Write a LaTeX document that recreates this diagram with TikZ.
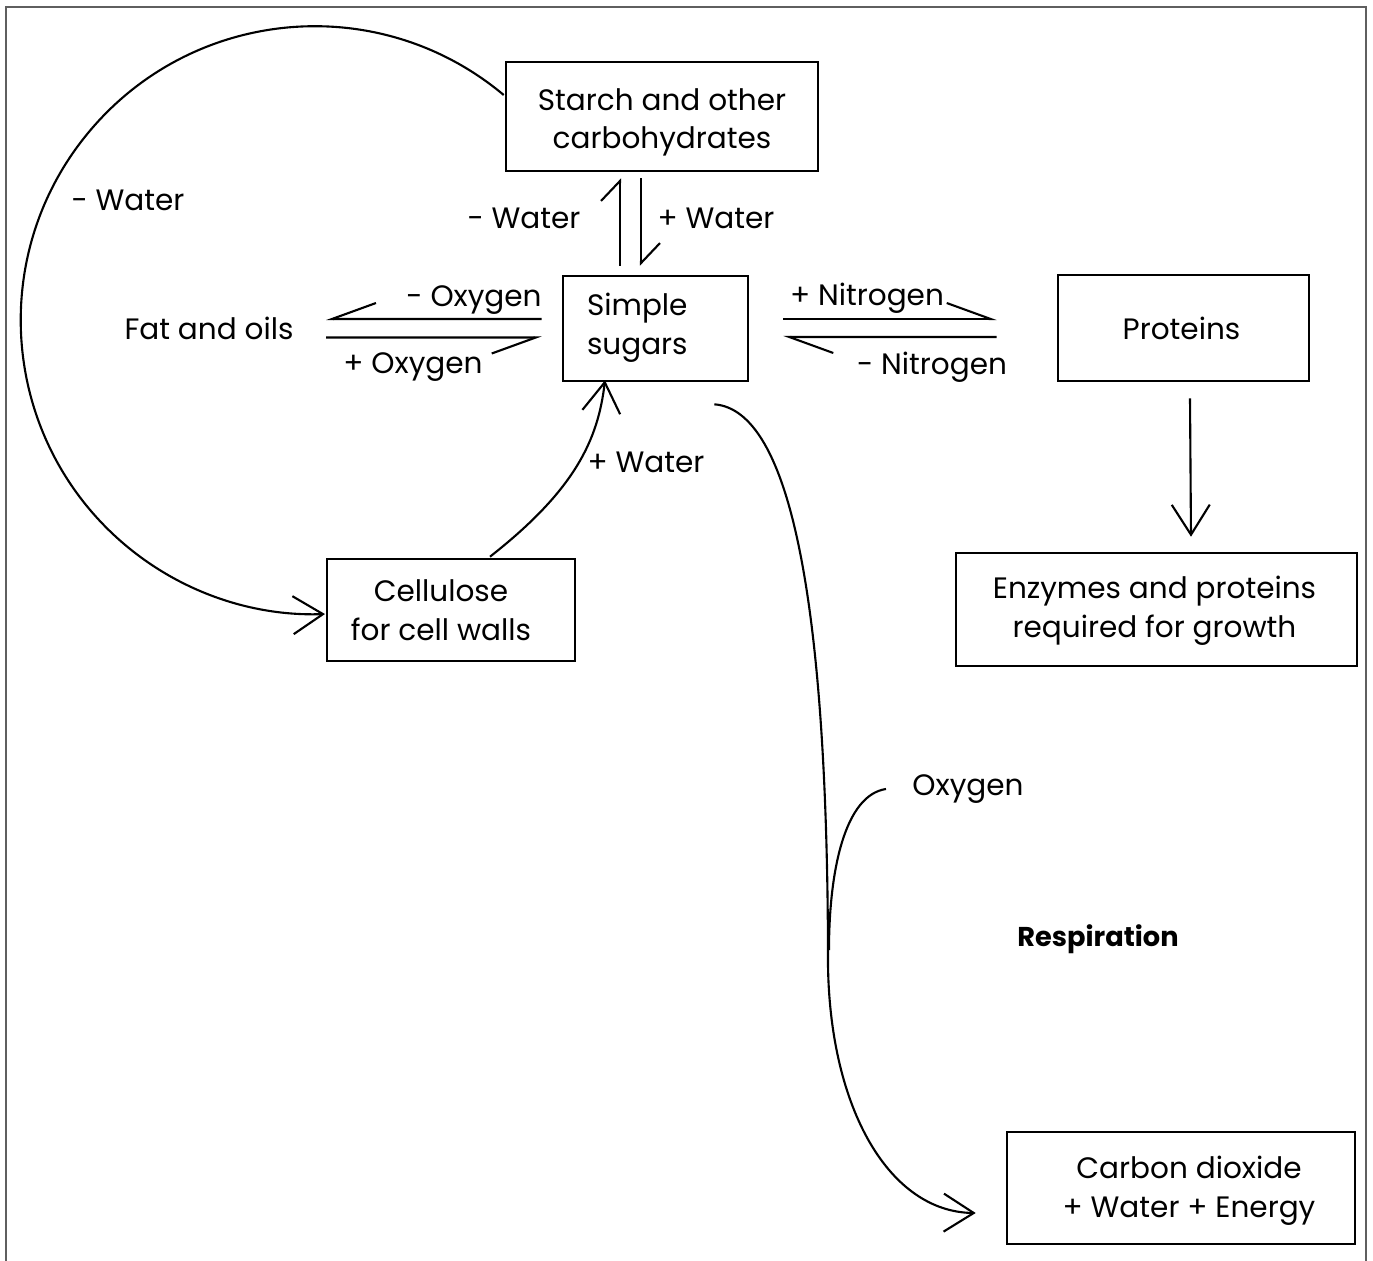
\documentclass[tikz,border=0pt]{standalone}
\usepackage{fontspec}
\setmainfont{Poppins}
\usetikzlibrary{arrows.meta}
\definecolor{framecol}{RGB}{95,95,95}
\tikzset{
  box/.style={draw, line width=1.5pt, inner sep=0pt},
  boxtext/.style={align=center, inner sep=0pt},
  lbl/.style={inner sep=0pt, text height=0.75em, text depth=0.22em, yshift=-0.1cm},
  conn/.style={line width=1.2pt},
  fullhead/.style={-{Straight Barb[length=0.6cm,width=0.76cm]}},
  shortharpL/.style={-{Straight Barb[left,length=0.4cm,width=0.76cm]}},
  longharpL/.style={-{Straight Barb[left,length=0.88cm,width=0.64cm]}},
  longharpR/.style={-{Straight Barb[right,length=0.88cm,width=0.64cm]}}
}
\begin{document}
\begin{tikzpicture}[x=0.02cm,y=0.02cm,font=\fontsize{16.8}{22}\selectfont]
\useasboundingbox (0,0) rectangle (1373,-1261);
\draw[framecol, line width=1.1pt] (6,-1261) -- (6,-7) -- (1366,-7) -- (1366,-1261);

% boxes
\node[box, minimum width=6.24cm, minimum height=2.18cm,
  label={[boxtext, yshift=-0.12cm]center:{Starch and other\\carbohydrates}}] (starch) at (662,-116.5) {};
\node[box, minimum width=3.70cm, minimum height=2.1cm,
  label={[boxtext, align=left, text width=2.74cm, yshift=0.02cm]center:{Simple\\sugars}}] (sugars) at (655.5,-328.5) {};
\node[box, minimum width=5.02cm, minimum height=2.12cm,
  label={[boxtext, xshift=-0.04cm]center:{Proteins}}] (proteins) at (1183.5,-328) {};
\node[box, minimum width=8.02cm, minimum height=2.26cm,
  label={[boxtext, xshift=-0.04cm, yshift=-0.03cm]center:{Enzymes and proteins\\required for growth}}] (enzymes) at (1156.5,-609.5) {};
\node[box, minimum width=4.96cm, minimum height=2.04cm,
  label={[boxtext, xshift=-0.2cm]center:{Cellulose\\for cell walls}}] (cellulose) at (451,-610) {};
\node[box, minimum width=6.96cm, minimum height=2.24cm,
  label={[boxtext, xshift=0.16cm, yshift=-0.05cm]center:{Carbon dioxide\\+ Water + Energy}}] (co2) at (1181,-1188) {};

% plain texts
\node[lbl] (fat) at (209,-330) {Fat and oils};
\node[lbl] (oxy) at (968,-786) {Oxygen};
\node[lbl, font=\fontsize{15.5}{22}\selectfont\bfseries] (resp) at (1098,-937) {Respiration};

% labels
\node[lbl] (lw1) at (128,-201) {- Water};
\node[lbl] (lw2) at (524,-219) {- Water};
\node[lbl] (lw3) at (716,-219) {+ Water};
\node[lbl] (lo1) at (474,-297) {- Oxygen};
\node[lbl] (lo2) at (413,-364) {+ Oxygen};
\node[lbl] (ln1) at (867,-296) {+ Nitrogen};
\node[lbl] (ln2) at (932,-365) {- Nitrogen};
\node[lbl] (lw4) at (646,-463) {+ Water};

% sugars <-> starch
\draw[conn, shortharpL] ([shift={(-35.5,9)}]sugars.north) -- ([shift={(-42,-6)}]starch.south);
\draw[conn, shortharpL] ([shift={(-21,-6)}]starch.south) -- ([shift={(-14.5,9)}]sugars.north);

% sugars <-> fat
\draw[conn, longharpR] ([shift={(-20,9.5)}]sugars.west) -- ([shift={(117,16)}]fat.center);
\draw[conn, longharpR] ([shift={(117,-2.5)}]fat.center) -- ([shift={(-20,-9)}]sugars.west);

% sugars <-> proteins
\draw[conn, longharpL] ([shift={(34,9.5)}]sugars.east) -- ([shift={(-60,9)}]proteins.west);
\draw[conn, longharpL] ([shift={(-60,-9)}]proteins.west) -- ([shift={(34,-8.5)}]sugars.east);

% proteins -> enzymes
\draw[conn, fullhead] ([shift={(6.5,-16)}]proteins.south) -- ([shift={(34.5,15)}]enzymes.north);

% cellulose -> sugars
\draw[conn, fullhead] ([shift={(39,1)}]cellulose.north) .. controls (575,-490) and (598,-440) .. ([shift={(-50.5,2)}]sugars.south);

% starch -> cellulose (big arc)
\draw[conn, fullhead] ([shift={(-1,21.5)}]starch.west) arc[start angle=50, end angle=272, radius=294];

% respiration
\coordinate (rs) at ([shift={(-35,-22)}]sugars.south east);
\coordinate (rm) at (828,-965);
\coordinate (re) at ([shift={(-30,-25)}]co2.west);
\coordinate (rj) at (829,-950);
\draw[conn, fullhead] (rs) .. controls (790,-410) and (828,-600) .. (rm) .. controls (830,-1110) and (890,-1212) .. (re);
\draw[conn] ([shift={(-82,2)}]oxy.center) .. controls (845,-795) and (829,-870) .. (rj);
\end{tikzpicture}
\end{document}
